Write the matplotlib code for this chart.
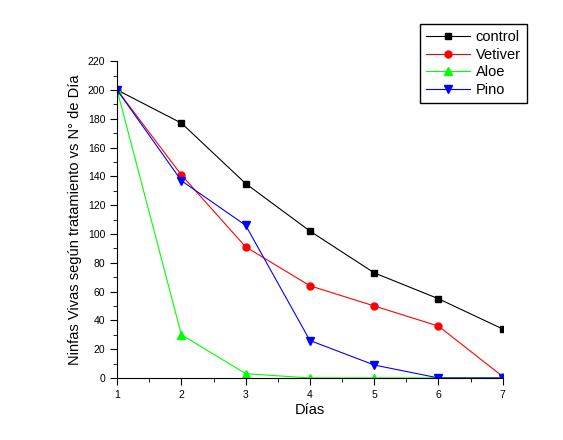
import matplotlib
matplotlib.use('Agg')
import matplotlib.pyplot as plt
from matplotlib.ticker import MultipleLocator

plt.rcParams['font.family'] = ['Liberation Sans', 'DejaVu Sans']

dias = [1, 2, 3, 4, 5, 6, 7]
control = [200, 177, 135, 102, 73, 55, 34]
vetiver = [200, 141, 91, 64, 50, 36, 1]
aloe = [200, 30, 3, 0, 0, 0, 0]
pino = [200, 137, 106, 26, 9, 0, 0]

fig = plt.figure(figsize=(5.63, 4.40), dpi=100)
ax = fig.add_axes([0.208, 0.141, 0.685, 0.72])

ax.plot(dias, control, marker='s', color='black', lw=0.8, ms=5, label='control')
ax.plot(dias, vetiver, marker='o', color='red', lw=0.8, ms=5, label='Vetiver')
ax.plot(dias, aloe, marker='^', color='#00ff00', lw=0.8, ms=6, label='Aloe')
ax.plot(dias, pino, marker='v', color='blue', lw=0.8, ms=6, label='Pino')

ax.set_xlim(1, 7)
ax.set_ylim(0, 220)
ax.xaxis.set_major_locator(MultipleLocator(1))
ax.xaxis.set_minor_locator(MultipleLocator(0.5))
ax.yaxis.set_major_locator(MultipleLocator(20))
ax.yaxis.set_minor_locator(MultipleLocator(10))
ax.tick_params(which='major', length=5, labelsize=7.5)
ax.tick_params(which='minor', length=3)
ax.spines['top'].set_visible(False)
ax.spines['right'].set_visible(False)

ax.set_xlabel('Días', fontsize=10.5, labelpad=2)
ax.set_ylabel('Ninfas Vivas según tratamiento vs N° de Día', fontsize=10.5)

fig.legend(loc='upper right', bbox_to_anchor=(0.943, 0.955), fontsize=10.5,
           frameon=True, fancybox=False, edgecolor='black', framealpha=1,
           handlelength=3, handletextpad=0.4, borderaxespad=0.3,
           labelspacing=0.25)

plt.savefig('out.png', dpi=100)
